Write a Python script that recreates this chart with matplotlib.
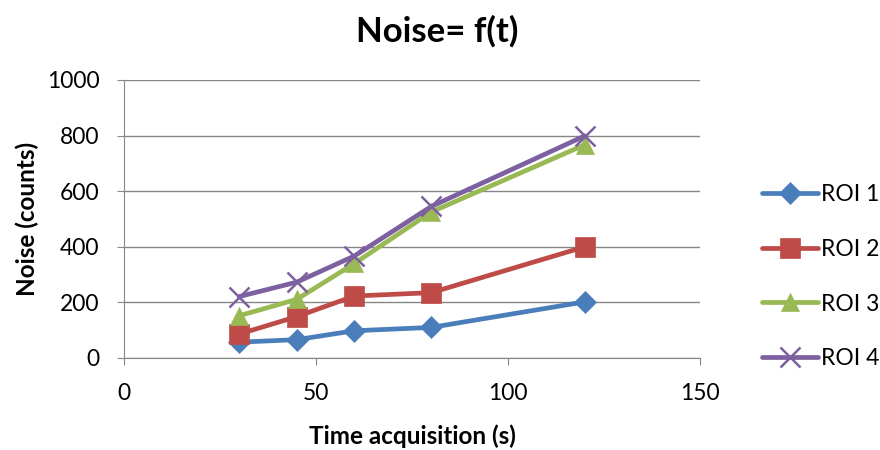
import matplotlib
matplotlib.use("Agg")
import matplotlib.pyplot as plt

plt.rcParams['font.family'] = ['Lato', 'DejaVu Sans']

time_s = [30, 45, 60, 80, 120]
roi1 = [57, 66, 98, 110, 202]
roi2 = [86, 149, 223, 235, 400]
roi3 = [152, 211, 340, 525, 767]
roi4 = [221, 273, 367, 545, 799]
labels = ["ROI 1", "ROI 2", "ROI 3", "ROI 4"]
colors = ["#4A7EBB", "#BE4B48", "#98B954", "#7D60A0"]
markers = ["D", "s", "^", "x"]
msizes = [11.5, 14, 13, 14]

fig = plt.figure(figsize=(8.8, 4.5), dpi=100)
ax = fig.add_axes([124 / 880, 1 - 358 / 450, (700 - 124) / 880, (358 - 80) / 450])

for ys, lab, c, m, ms in zip([roi1, roi2, roi3, roi4], labels, colors, markers, msizes):
    ax.plot(time_s, ys, color=c, lw=3.4, marker=m, markersize=ms,
            markeredgewidth=1.8 if m == "x" else 0.5, markeredgecolor=c,
            markerfacecolor=c, label=lab, solid_capstyle='round')

ax.set_xlim(0, 150)
ax.set_ylim(0, 1000)
ax.set_xticks([0, 50, 100, 150])
ax.set_yticks(range(0, 1001, 200))
ax.grid(axis='y', color='#868686', lw=1.0)
ax.set_axisbelow(True)
for s in ['top', 'right']:
    ax.spines[s].set_visible(False)
for s in ['left', 'bottom']:
    ax.spines[s].set_color('#868686')
ax.tick_params(axis='both', labelsize=16.5, color='#868686', length=5, direction='out')
ax.tick_params(axis='x', pad=13)
ax.tick_params(axis='y', pad=12.5)
ax.set_xlabel("Time acquisition (s)", fontsize=17.5, fontweight='bold', labelpad=15)
ax.set_ylabel("Noise (counts)", fontsize=17.5, fontweight='bold', labelpad=5.5)
fig.text(0.497, 0.931, "Noise= f(t)", fontsize=25, fontweight='bold', ha='center', va='center')

leg = ax.legend(loc='center left', bbox_to_anchor=(1.071, 0.293), frameon=False,
                fontsize=16.5, labelspacing=1.48, handlelength=2.45, handletextpad=0.15)

fig.savefig("out.png", dpi=100)
